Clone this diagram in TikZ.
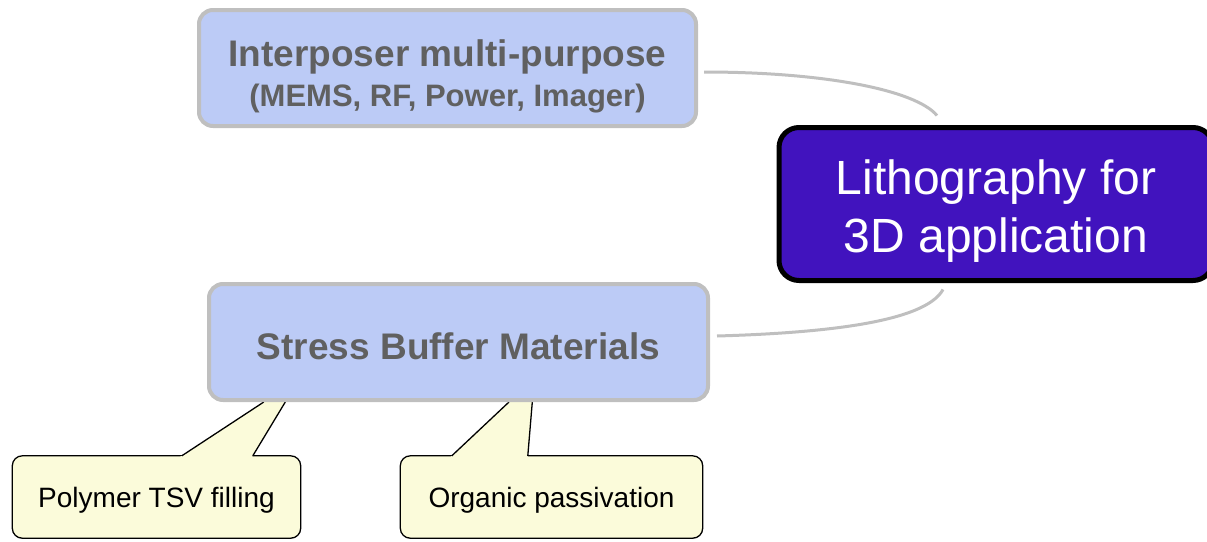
\documentclass[tikz,border=0pt]{standalone}
\usepackage{fontspec}
\setmainfont{Liberation Sans}
\usetikzlibrary{calc,backgrounds}

\definecolor{topicfill}{HTML}{BCCBF6}
\definecolor{topicline}{HTML}{BFBFBF}
\definecolor{topictext}{HTML}{606060}
\definecolor{centralfill}{HTML}{4113BE}
\definecolor{notefill}{HTML}{FBFBDA}

\tikzset{
  topic/.style={draw=topicline, line width=4pt, fill=topicfill, rounded corners=14pt,
    text=topictext, font=\bfseries, align=center, inner sep=0pt},
  central/.style={draw=black, line width=5pt, fill=centralfill, rounded corners=20pt,
    text=white, align=center, inner sep=0pt, font=\fontsize{48}{57}\selectfont},
  notetext/.style={font=\fontsize{28}{32}\selectfont, inner sep=0pt, text=black,
    text height=20pt, text depth=0pt},
  notebox/.style={draw=black, line width=1.3pt, fill=notefill, rounded corners=10pt},
  notefillonly/.style={fill=notefill},
  noteedge/.style={draw=black, line width=1.3pt, line join=round},
  link/.style={draw=topicline, line width=3pt},
}

\begin{document}
\begin{tikzpicture}[x=1pt,y=-1pt]
\useasboundingbox (0,0) rectangle (1207,541);

% main topics
\node[topic, minimum width=497pt, minimum height=116pt] (inter) at (447.5,68)
  {\fontsize{37}{42}\selectfont\rule{0pt}{44pt}Interposer multi-purpose\\[9pt]
   \fontsize{31}{42}\selectfont (MEMS, RF, Power, Imager)};
\node[topic, minimum width=499pt, minimum height=116pt, font=\bfseries\fontsize{37}{44}\selectfont]
  (stress) at (458.5,342) {\rule{0pt}{35pt}Stress Buffer Materials};

% central topic
\node[central, minimum width=434pt, minimum height=153pt] (litho) at (996,204)
  {\rule{0pt}{48pt}Lithography for\\[1pt]3D application};

% notes
\node[notetext, minimum width=288pt, minimum height=82pt] (poly) at (156.5,497)
  {Polymer TSV filling};
\node[notetext, minimum width=302pt, minimum height=82pt] (org) at (551.5,497)
  {Organic passivation};

% pointer ends (hidden under the topic box) and bases on the notes
\coordinate (pa) at ($(stress.south)+(-194.7,0)$);
\coordinate (pb) at ($(stress.south)+(-173.2,0)$);
\coordinate (pc) at ($(poly.north west)+(169.5,0)$);
\coordinate (pd) at ($(poly.north west)+(240.5,0)$);
\coordinate (oa) at ($(stress.south)+(50.5,0)$);
\coordinate (ob) at ($(stress.south)+(73.8,0)$);
\coordinate (oc) at ($(org.north west)+(51.5,0)$);
\coordinate (od) at ($(org.north west)+(127.5,0)$);

\begin{scope}[on background layer]
  % note bodies
  \path[notebox] (poly.south west) rectangle (poly.north east);
  \path[notebox] (org.south west) rectangle (org.north east);
  % note pointers
  \path[notefillonly] (pa) -- ($(pa)!1.08!(pc)$) -- ($(pb)!1.08!(pd)$) -- (pb) -- cycle;
  \path[noteedge] (pa) -- (pc) (pb) -- (pd);
  \path[notefillonly] (oa) -- ($(oa)!1.08!(oc)$) -- ($(ob)!1.08!(od)$) -- (ob) -- cycle;
  \path[noteedge] (oa) -- (oc) (ob) -- (od);
\end{scope}

% connectors
\draw[link] ([xshift=6pt,yshift=-4pt]inter.east) .. controls +(118,0) and +(-22,-26) ..
  ($(litho.north)+(-59,-9.5)$);
\draw[link] ($(litho.south)+(-53,6.5)$) .. controls +(-18,33) and +(105,-3) ..
  ($(stress.east)+(7,-6)$);
\end{tikzpicture}
\end{document}
